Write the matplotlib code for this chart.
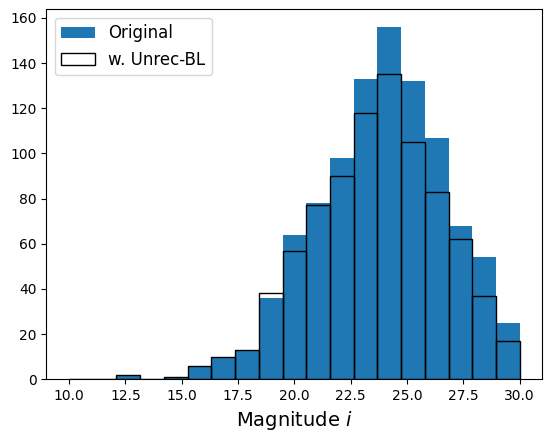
import numpy as np
import matplotlib
matplotlib.use("Agg")
import matplotlib.pyplot as plt

bin_edges = np.linspace(10, 30, 20)
original = [0, 0, 2, 0, 1, 6, 10, 13, 36, 64, 78, 98, 133, 156, 132, 107, 68, 54, 25]
unrec_bl = [0, 0, 2, 0, 1, 6, 10, 13, 38, 57, 77, 90, 118, 135, 105, 83, 62, 37, 17]

fig = plt.figure(figsize=(5.52, 4.41), dpi=100)
ax = fig.add_axes([0.0842, 0.140, 0.9824 - 0.0842, 0.979 - 0.140])

centers = (bin_edges[:-1] + bin_edges[1:]) / 2
ax.hist(centers, bins=bin_edges, weights=original, color='#1f77b4', label='Original')
ax.hist(centers, bins=bin_edges, weights=unrec_bl, fill=False, edgecolor='black',
        linewidth=1.0, label='w. Unrec-BL')

ax.set_xlabel('Magnitude $i$', fontsize=14)
ax.legend(loc='upper left', fontsize=12)

fig.savefig('out.png', dpi=100)
